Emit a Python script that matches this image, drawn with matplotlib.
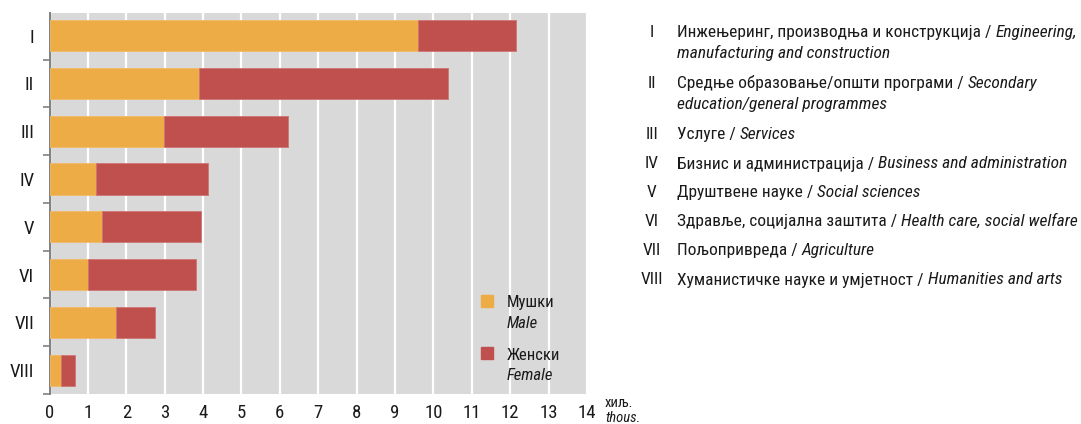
import matplotlib
matplotlib.use('Agg')
import matplotlib.pyplot as plt
import numpy as np

categories = ['I', 'II', 'III', 'IV', 'V', 'VI', 'VII', 'VIII']
male = [9.59, 3.90, 2.97, 1.21, 1.37, 1.01, 1.74, 0.29]
female = [2.57, 6.47, 3.24, 2.91, 2.57, 2.81, 1.01, 0.37]

legend_sr = ['Мушки', 'Женски']
legend_en = ['Male', 'Female']

desc_sr = [
    'Инжењеринг, производња и конструкција /',
    'Средње образовање/општи програми /',
    'Услуге /',
    'Бизнис и администрација /',
    'Друштвене науке /',
    'Здравље, социјална заштита /',
    'Пољопривреда /',
    'Хуманистичке науке и умјетност /',
]
desc_en = [
    ['Engineering,', 'manufacturing and construction'],
    ['Secondary', 'education/general programmes'],
    ['Services'],
    ['Business and administration'],
    ['Social sciences'],
    ['Health care, social welfare'],
    ['Agriculture'],
    ['Humanities and arts'],
]

ORANGE = '#EDAC45'
RED = '#C0504D'
TXT = '#1a1a1a'
plt.rcParams['font.family'] = ['Liberation Sans Narrow', 'Roboto Condensed', 'Roboto', 'DejaVu Sans']

W, H = 1081, 424
fig = plt.figure(figsize=(W / 100, H / 100), dpi=100)
ax = fig.add_axes([49.5 / W, 1 - 394 / H, (587 - 49.5) / W, (394 - 12.7) / H])
ax.set_facecolor('#D9D9D9')

y = np.arange(len(categories))
ax.barh(y, male, height=0.65, color=ORANGE, edgecolor='#F0B968', linewidth=0.6, zorder=3)
ax.barh(y, female, left=male, height=0.65, color=RED, edgecolor='#D07573', linewidth=0.6, zorder=3)

ax.set_xlim(0, 14)
ax.set_ylim(7.5, -0.48)
ax.set_xticks(range(15))
ax.xaxis.grid(True, color='white', linewidth=1.6, zorder=1)
ax.set_axisbelow(True)
ax.tick_params(axis='x', length=0, pad=7.5, labelsize=13.5, labelcolor=TXT)

ax.set_yticks(y)
ax.set_yticklabels(categories)
ax.tick_params(axis='y', which='major', length=0, pad=11, labelsize=13.5, labelcolor=TXT)
ax.set_yticks(np.append(np.arange(0.5, 7.0, 1.0), 7.5), minor=True)
ax.tick_params(axis='y', which='minor', length=5, width=1.2, color='#808080')

for s in ['top', 'right', 'bottom']:
    ax.spines[s].set_visible(False)
ax.spines['left'].set_color('#808080')
ax.spines['left'].set_linewidth(1.4)

fig.text(605 / W, 1 - 403 / H, 'хиљ.', fontsize=10.5, va='center', color=TXT)
fig.text(605 / W, 1 - 418 / H, 'thous.', fontsize=10.5, style='italic', va='center', color=TXT)

# legend for the bars
for i, (c, sr, en) in enumerate(zip([ORANGE, RED], legend_sr, legend_en)):
    top = 295 + i * 52.3
    fig.patches.append(plt.Rectangle((481 / W, 1 - (top + 11.5) / H), 11.7 / W, 11.5 / H,
                                     transform=fig.transFigure, color=c))
    fig.text(507 / W, 1 - (top + 8) / H, sr, fontsize=12, va='center', color=TXT)
    fig.text(507 / W, 1 - (top + 28.5) / H, en, fontsize=12, va='center', style='italic', color=TXT)

# category descriptions on the right
renderer = fig.canvas.get_renderer()

# pick a font size so that the widest line (VI) ends where it does in the original
probe_size = 11.0
a = fig.text(0, 0, desc_sr[5], fontsize=probe_size)
b = fig.text(0, 0, desc_en[5][0], fontsize=probe_size, style='italic')
w_probe = a.get_window_extent(renderer).width + b.get_window_extent(renderer).width + 4
a.remove()
b.remove()
fs = probe_size * (1076 - 677) / w_probe

rows_y = [32.3, 83.3, 134.3, 164, 192.7, 221.7, 250.7, 280]
for cat, sr, en, yy in zip(categories, desc_sr, desc_en, rows_y):
    fig.text(652 / W, 1 - yy / H, cat, fontsize=fs, ha='center', va='center', color=TXT)
    t = fig.text(677 / W, 1 - yy / H, sr, fontsize=fs, va='center', color=TXT)
    bb = t.get_window_extent(renderer)
    fig.text((677 + bb.width + 4) / W, 1 - yy / H, en[0], fontsize=fs, va='center',
             style='italic', color=TXT)
    if len(en) > 1:
        fig.text(677 / W, 1 - (yy + 21) / H, en[1], fontsize=fs, va='center',
                 style='italic', color=TXT)

fig.savefig('out.png', dpi=100)
